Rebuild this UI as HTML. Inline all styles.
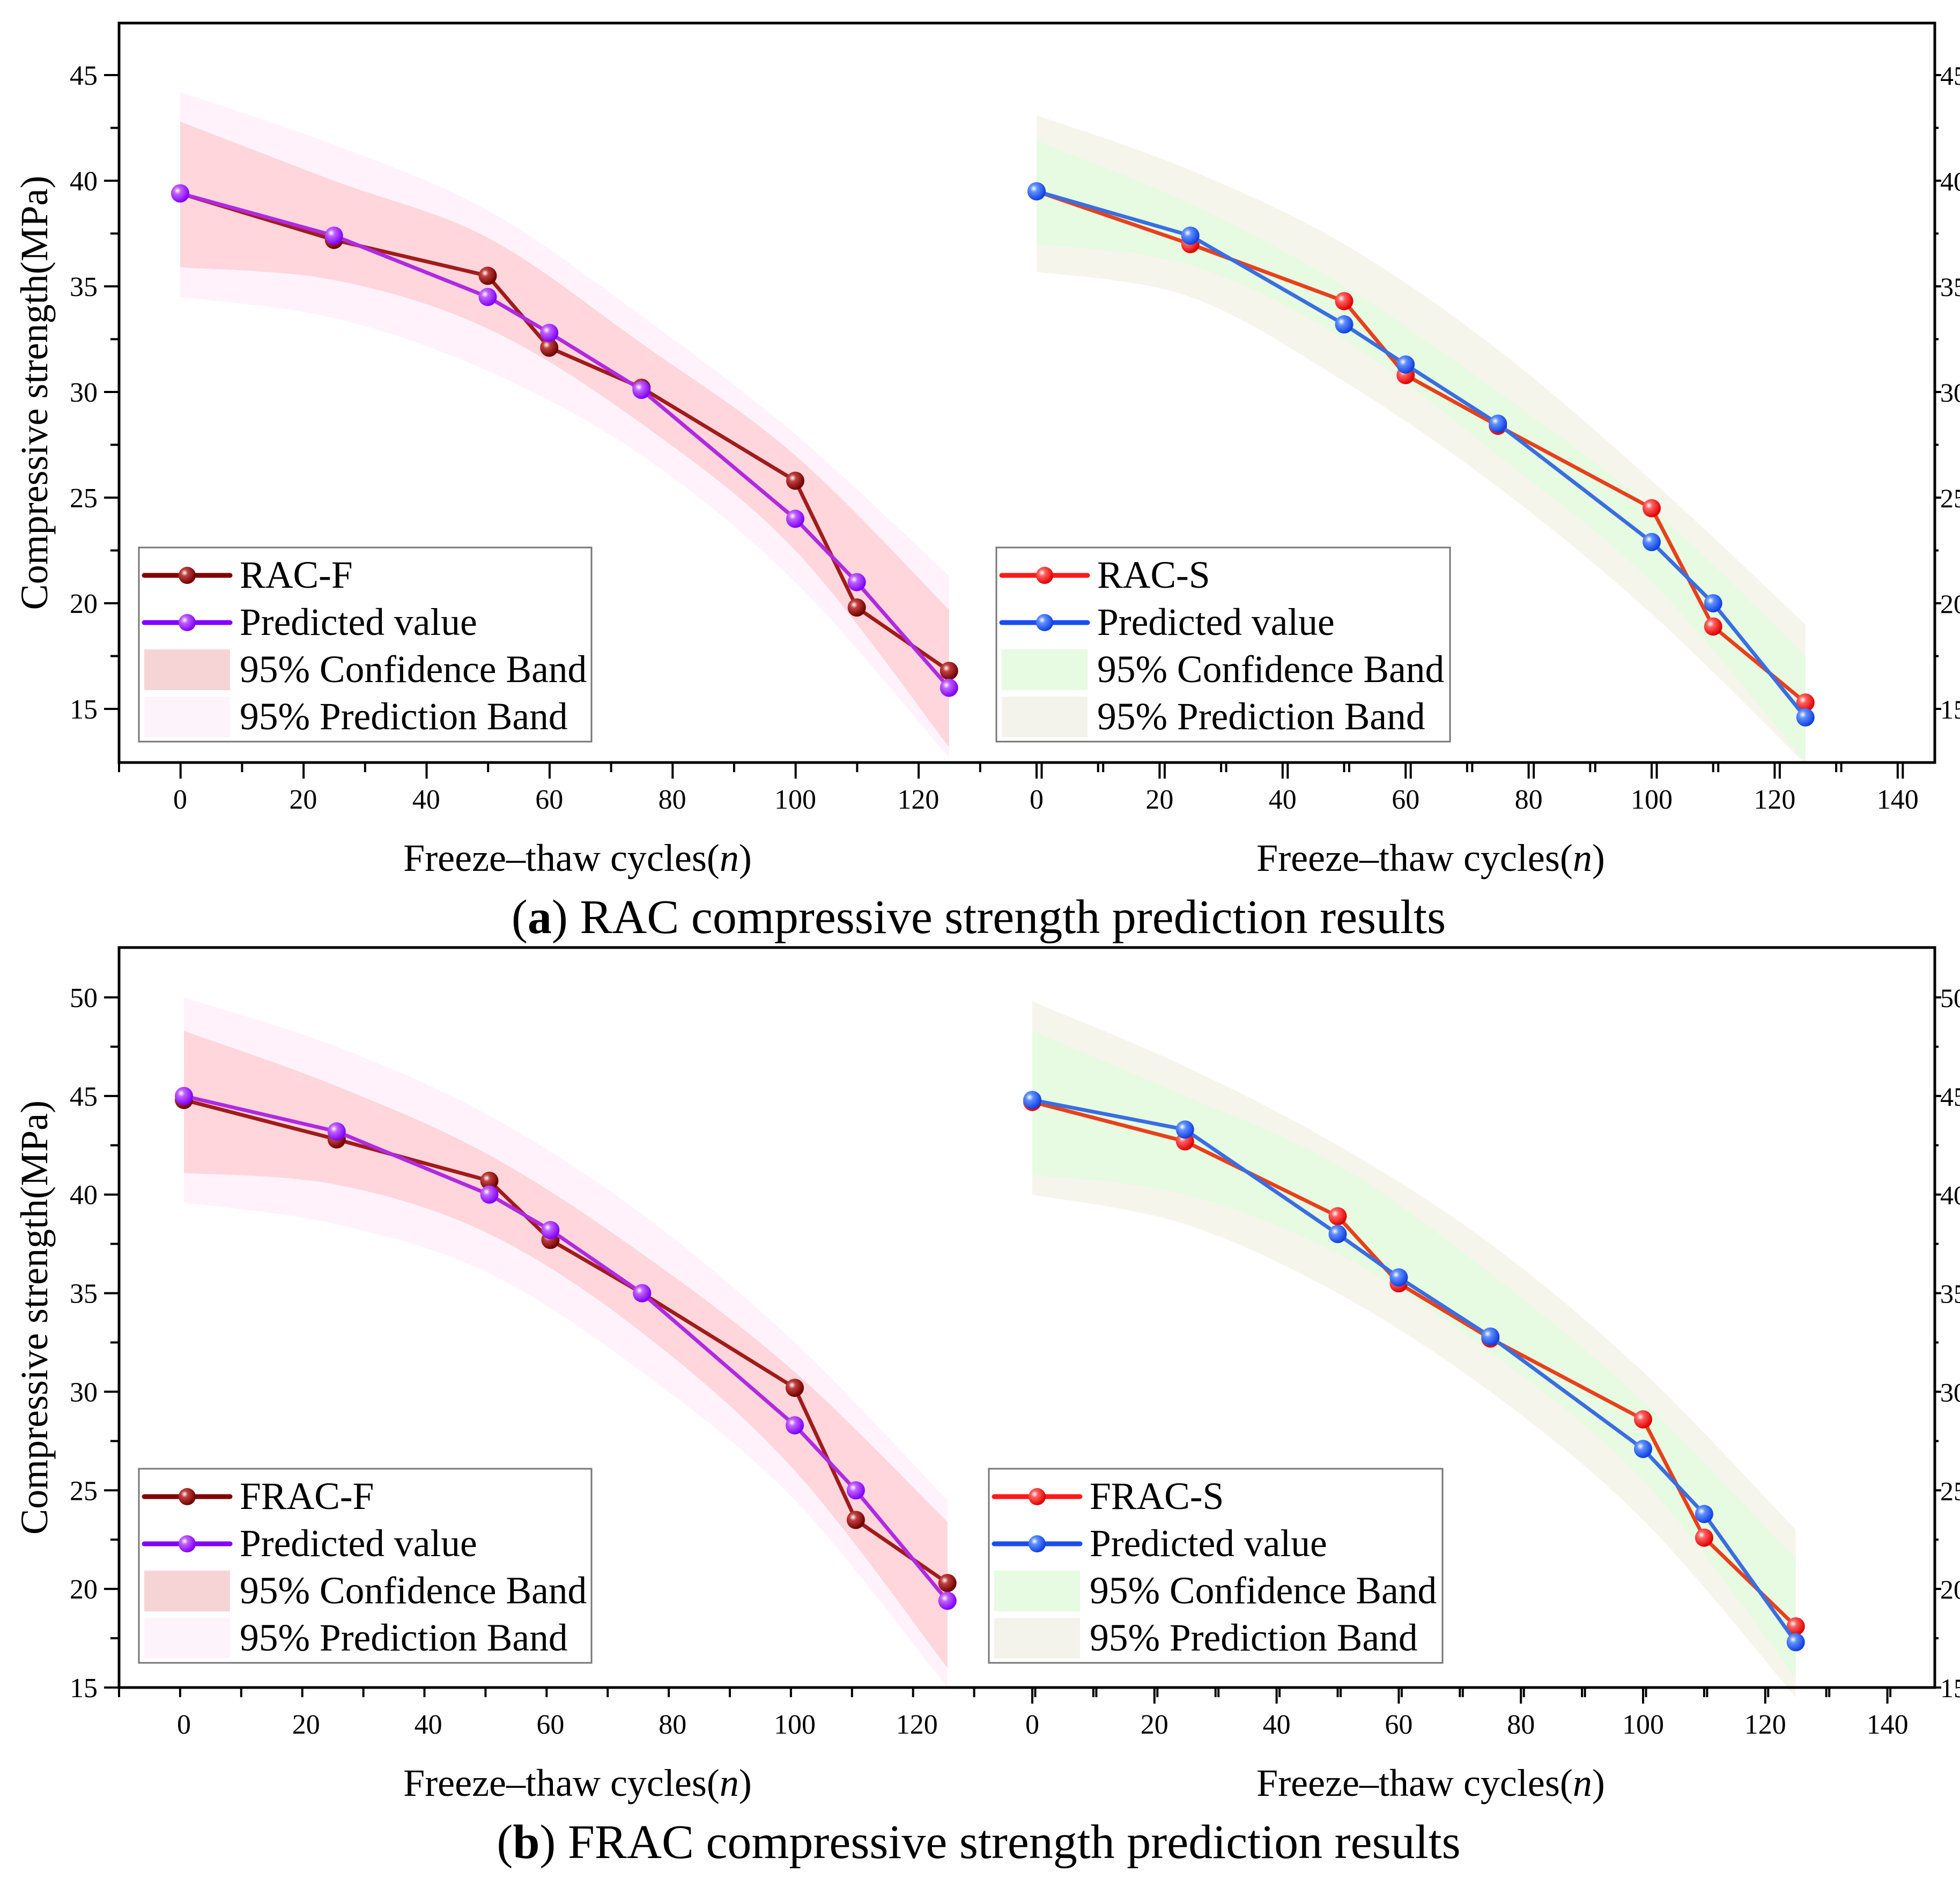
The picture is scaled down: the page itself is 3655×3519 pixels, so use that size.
<!DOCTYPE html>
<html><head><meta charset="utf-8">
<style>
html,body{margin:0;padding:0;background:#fff;}
svg{display:block;font-family:"Liberation Serif",serif;}
text{font-family:"Liberation Serif",serif;}
</style></head>
<body>
<svg id="chart" width="3655" height="3519" viewBox="0 0 3655 3519" xmlns="http://www.w3.org/2000/svg">
<defs>
<radialGradient id="gDark" cx="35%" cy="35%" r="65%"><stop offset="0" stop-color="#fff"/><stop offset="0.3" stop-color="#c04040"/><stop offset="1" stop-color="#700000"/></radialGradient>
<radialGradient id="gPurple" cx="35%" cy="35%" r="65%"><stop offset="0" stop-color="#fff"/><stop offset="0.3" stop-color="#c060ff"/><stop offset="1" stop-color="#8000ff"/></radialGradient>
<radialGradient id="gRed" cx="35%" cy="35%" r="65%"><stop offset="0" stop-color="#fff"/><stop offset="0.3" stop-color="#ff6060"/><stop offset="1" stop-color="#e00000"/></radialGradient>
<radialGradient id="gBlue" cx="35%" cy="35%" r="65%"><stop offset="0" stop-color="#fff"/><stop offset="0.3" stop-color="#6090ff"/><stop offset="1" stop-color="#1040e0"/></radialGradient>
</defs>
</svg>
<script>
const cycles = [0,25,50,60,75,100,110,125];
const bandX = [0,25,50,75,100,125];
// Panel a-left
const racF = [39.4,37.2,35.5,32.1,30.2,25.8,19.8,16.8];
const racFPred = [39.4,37.4,34.5,32.8,30.1,24.0,21.0,16.0];
const racFConfHi = [42.8,40.0,37.3,32.3,27.0,19.7];
const racFConfLo = [35.9,35.3,33.0,28.5,22.5,13.2];
const racFPredHi = [44.2,41.7,38.6,33.6,28.0,21.3];
const racFPredLo = [34.5,33.5,31.0,27.0,21.0,12.7];
// Panel a-right
const racS = [39.5,37.0,34.3,30.8,28.4,24.5,18.9,15.3];
const racSPred = [39.5,37.4,33.2,31.3,28.5,22.9,20.0,14.6];
const racSConfHi = [41.9,38.9,35.0,30.0,24.5,17.5];
const racSConfLo = [37.0,36.0,32.5,27.0,21.0,12.5];
const racSPredHi = [43.1,40.5,37.0,32.0,25.8,19.0];
const racSPredLo = [35.7,34.5,30.5,25.5,19.5,12.4];
// Panel b-left
const fracF = [44.8,42.8,40.7,37.7,35.0,30.2,23.5,20.3];
const fracFPred = [45.0,43.2,40.0,38.2,35.0,28.3,25.0,19.4];
const fracFConfHi = [48.3,45.5,42.0,37.0,31.0,23.4];
const fracFConfLo = [41.1,40.5,38.0,33.0,26.0,16.0];
const fracFPredHi = [50.0,47.5,44.0,39.0,32.5,24.5];
const fracFPredLo = [39.6,38.5,36.0,31.0,24.5,15.0];
// Panel b-right
const fracS = [44.7,42.7,38.9,35.5,32.7,28.6,22.6,18.1];
const fracSPred = [44.8,43.3,38.0,35.8,32.8,27.1,23.8,17.3];
const fracSConfHi = [48.3,45.0,41.5,36.0,29.5,21.5];
const fracSConfLo = [41.0,40.0,37.0,32.0,25.5,15.5];
const fracSPredHi = [49.8,46.5,42.5,37.5,31.0,23.0];
const fracSPredLo = [40.0,38.5,35.0,30.0,23.5,14.5];
const xTickLabels = [0,20,40,60,80,100,120];
const xTickLabelsRight = [0,20,40,60,80,100,120,140];
const yTicksA = [15,20,25,30,35,40,45];
const yTicksB = [15,20,25,30,35,40,45,50];

const svg = document.getElementById('chart');
const NS = 'http://www.w3.org/2000/svg';
function mk(tag, attrs, parent){const e=document.createElementNS(NS,tag);for(const k in attrs)e.setAttribute(k,attrs[k]);(parent||svg).appendChild(e);return e;}
function spline(pts){
  let d='M'+pts[0][0]+','+pts[0][1];
  for(let i=0;i<pts.length-1;i++){
    const p0=pts[Math.max(i-1,0)],p1=pts[i],p2=pts[i+1],p3=pts[Math.min(i+2,pts.length-1)];
    const c1=[p1[0]+(p2[0]-p0[0])/6,p1[1]+(p2[1]-p0[1])/6];
    const c2=[p2[0]-(p3[0]-p1[0])/6,p2[1]-(p3[1]-p1[1])/6];
    d+=' C'+c1[0]+','+c1[1]+' '+c2[0]+','+c2[1]+' '+p2[0]+','+p2[1];
  }
  return d;
}
function band(name,xs,hi,lo,fx,fy,color){
  const up=xs.map((x,i)=>[fx(x),fy(hi[i])]);
  const dn=xs.map((x,i)=>[fx(x),fy(lo[i])]).reverse();
  let d=spline(up)+' L'+dn[0][0]+','+dn[0][1]+' '+spline(dn).slice(1).replace(/^[^C]*/,'')+' Z';
  const p=mk('path',{d:d,fill:color,stroke:'none'});
  
  
}
function series(name,xs,ys,fx,fy,lineColor,grad){
  const g=mk('g',{});
  
  
  mk('polyline',{points:xs.map((x,i)=>fx(x)+','+fy(ys[i])).join(' '),fill:'none',stroke:lineColor,'stroke-width':7,'stroke-linejoin':'round'},g);
  xs.forEach((x,i)=>{const c=mk('circle',{cx:fx(x),cy:fy(ys[i]),r:17,fill:'url(#'+grad+')'},g);
    
    });
}
function text(str,x,y,size,anchor,name,extra){
  const t=mk('text',Object.assign({x:x,y:y,'font-size':size,'text-anchor':anchor||'middle',fill:'#000','font-family':'Liberation Serif, serif'},extra||{}));
  t.innerHTML=str;
  
  
  return t;
}
function legend(name,x0,y0,w,h,labels,cols){
  const g=mk('g',{});
  
  
  mk('rect',{x:x0,y:y0,width:w,height:h,fill:'#fff',stroke:'#777','stroke-width':3},g);
  const rowH=88;
  for(let i=0;i<4;i++){
    const cy=y0+52+i*rowH;
    if(i<2){
      mk('line',{x1:x0+10,y1:cy,x2:x0+170,y2:cy,stroke:cols[i][0],'stroke-width':9,'stroke-linecap':'round'},g);
      mk('circle',{cx:x0+90,cy:cy,r:16,fill:'url(#'+cols[i][1]+')'},g);
    } else {
      mk('rect',{x:x0+10,y:cy-38,width:160,height:76,fill:cols[i]},g);
    }
    const t=mk('text',{x:x0+188,y:cy+23,'font-size':71.5,fill:'#000','font-family':'Liberation Serif, serif'},g);
    t.textContent=labels[i];
    
    
  }
}
function panel(cfg){
  const {top,bottom,left,right,ymin,ymax,yTop,yBot,x0L,x0R,ux,yticks}=cfg;
  const fy=v=>yBot-(v-ymin)*(yBot-yTop)/(ymax-ymin);
  const fxL=v=>x0L+v*ux, fxR=v=>x0R+v*ux;
  band(cfg.p+'-left-prediction-band',bandX,cfg.L.ph,cfg.L.pl,fxL,fy,'#fff2fb');
  band(cfg.p+'-left-confidence-band',bandX,cfg.L.ch,cfg.L.cl,fxL,fy,'#ffd6dc');
  band(cfg.p+'-right-prediction-band',bandX,cfg.R.ph,cfg.R.pl,fxR,fy,'#f5f5ec');
  band(cfg.p+'-right-confidence-band',bandX,cfg.R.ch,cfg.R.cl,fxR,fy,'#e6fbe2');
  series(cfg.p+'-'+cfg.L.n1,cycles,cfg.L.a,fxL,fy,'#a01c1c','gDark');
  series(cfg.p+'-left-predicted',cycles,cfg.L.b,fxL,fy,'#b02ae0','gPurple');
  series(cfg.p+'-'+cfg.R.n1,cycles,cfg.R.a,fxR,fy,'#e8401c','gRed');
  series(cfg.p+'-right-predicted',cycles,cfg.R.b,fxR,fy,'#3a6ee0','gBlue');
  const ax=mk('rect',{x:left,y:top,width:right-left,height:bottom-top,fill:'none',stroke:'#000','stroke-width':5});
  
  
  for(let v=ymin;v<=ymax+0.01;v+=2.5){
    const y=fy(v); if(y<top) continue;
    const major=Math.abs(v%5)<0.01;
    mk('line',{x1:left,y1:y,x2:left-(major?28:16),y2:y,stroke:'#000','stroke-width':4});
    mk('line',{x1:right,y1:y,x2:right+(major?12:7),y2:y,stroke:'#000','stroke-width':4});
  }
  yticks.forEach(v=>{
    text(String(v),left-40,fy(v)+18,52,'end','y-tick-label');
    text(String(v),right+10,fy(v)+18,50,'start','y-tick-label-right');
  });
  for(let x=left;x<=right;x+=ux*10){
    const u=Math.round((x-x0L)/ux);
    mk('line',{x1:x,y1:bottom,x2:x,y2:bottom+(u%20===0?30:18),stroke:'#000','stroke-width':4});
  }
  for(let x=x0R;x<=right;x+=ux*10){
    const u=Math.round((x-x0R)/ux);
    mk('line',{x1:x,y1:bottom,x2:x,y2:bottom+(u%20===0?30:18),stroke:'#000','stroke-width':4});
  }
  xTickLabels.forEach(v=>text(String(v),fxL(v),bottom+86,52,'middle','x-tick-label'));
  xTickLabelsRight.forEach(v=>text(String(v),fxR(v),bottom+86,52,'middle','x-tick-label-right'));
  text('Freeze–thaw cycles(<tspan font-style="italic">n</tspan>)',1077,bottom+202,72,'middle','x-axis-title-left');
  text('Freeze–thaw cycles(<tspan font-style="italic">n</tspan>)',2668,bottom+202,72,'middle','x-axis-title-right');
  text('Compressive strength(MPa)',0,0,72,'middle','y-axis-title',{transform:'translate(88,'+((top+bottom)/2)+') rotate(-90)'});
  text(cfg.caption,1825,bottom+318,90,'middle','panel-caption');
  legend(cfg.p+'-left-legend',259,cfg.legY,844,362,[cfg.L.label,'Predicted value','95% Confidence Band','95% Prediction Band'],[['#800000','gDark'],['#8000ff','gPurple'],'#f6d4d6','#fdf4fb']);
  legend(cfg.p+'-right-legend',cfg.legRX,cfg.legY,846,362,[cfg.R.label,'Predicted value','95% Confidence Band','95% Prediction Band'],[['#ff1a1a','gRed'],['#1a4cf0','gBlue'],'#e6fbe2','#f3f3ec']);
}
panel({p:'a',top:43,bottom:1422,left:222,right:3608,ymin:15,ymax:45,yTop:140,yBot:1322,x0L:336,x0R:1933,ux:11.47,yticks:yTicksA,
  caption:'(<tspan font-weight="bold">a</tspan>) RAC compressive strength prediction results',legY:1021,legRX:1858,
  L:{n1:'rac-f',label:'RAC-F',a:racF,b:racFPred,ch:racFConfHi,cl:racFConfLo,ph:racFPredHi,pl:racFPredLo},
  R:{n1:'rac-s',label:'RAC-S',a:racS,b:racSPred,ch:racSConfHi,cl:racSConfLo,ph:racSPredHi,pl:racSPredLo}});
panel({p:'b',top:1767,bottom:3147,left:222,right:3608,ymin:15,ymax:50,yTop:1860,yBot:3147,x0L:343,x0R:1925,ux:11.39,yticks:yTicksB,
  caption:'(<tspan font-weight="bold">b</tspan>) FRAC compressive strength prediction results',legY:2739,legRX:1844,
  L:{n1:'frac-f',label:'FRAC-F',a:fracF,b:fracFPred,ch:fracFConfHi,cl:fracFConfLo,ph:fracFPredHi,pl:fracFPredLo},
  R:{n1:'frac-s',label:'FRAC-S',a:fracS,b:fracSPred,ch:fracSConfHi,cl:fracSConfLo,ph:fracSPredHi,pl:fracSPredLo}});
</script>
</body></html>
